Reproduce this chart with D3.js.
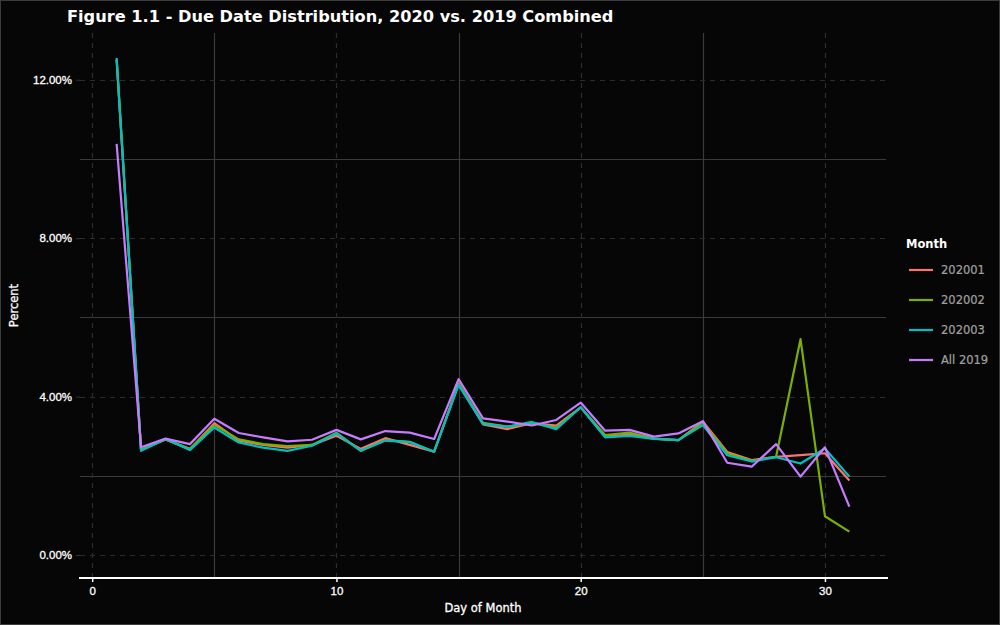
<!DOCTYPE html>
<html>
<head>
<meta charset="utf-8">
<script src="https://cdn.jsdelivr.net/npm/d3@7"></script>
<style>
  html, body { margin: 0; padding: 0; background: #060606; }
  svg { display: block; font-family: "DejaVu Sans", sans-serif; }
</style>
</head>
<body>
<svg id="chart" width="1000" height="625"></svg>
<script>
const days = d3.range(1, 32);
const seriesNames = ["202001", "202002", "202003", "All 2019"];
const seriesColors = ["#F8766D", "#7CAE00", "#00BFC4", "#C77CFF"];

const v202001 = [12.50, 2.66, 2.92, 2.67, 3.33, 2.89, 2.78, 2.71, 2.78, 3.01,
                 2.68, 2.95, 2.78, 2.61, 4.33, 3.30, 3.18, 3.33, 3.27, 3.73,
                 2.99, 3.04, 2.94, 2.90, 3.37, 2.60, 2.40, 2.48, 2.52, 2.57, 1.88];
const v202002 = [12.52, 2.65, 2.92, 2.68, 3.28, 2.92, 2.80, 2.75, 2.78, 3.09,
                 2.63, 2.90, 2.86, 2.61, 4.33, 3.34, 3.24, 3.33, 3.22, 3.73,
                 3.03, 3.09, 2.94, 2.90, 3.35, 2.57, 2.38, 2.48, 5.45, 0.98, 0.59];
const v202003 = [12.55, 2.63, 2.93, 2.65, 3.22, 2.84, 2.71, 2.63, 2.76, 3.07,
                 2.63, 2.89, 2.85, 2.61, 4.29, 3.31, 3.24, 3.36, 3.18, 3.73,
                 2.97, 3.01, 2.93, 2.90, 3.28, 2.52, 2.36, 2.47, 2.31, 2.69, 1.98];
const v2019   = [10.38, 2.72, 2.94, 2.80, 3.44, 3.08, 2.97, 2.87, 2.91, 3.16,
                 2.92, 3.13, 3.09, 2.93, 4.44, 3.45, 3.37, 3.27, 3.41, 3.85,
                 3.14, 3.16, 2.99, 3.07, 3.38, 2.33, 2.23, 2.80, 1.98, 2.72, 1.22];
const seriesValues = [v202001, v202002, v202003, v2019];

const xMajorTicks = [0, 10, 20, 30];
const xMinorTicks = [5, 15, 25];
const yMajorTicks = [0, 4, 8, 12];
const yMinorTicks = [2, 6, 10];

const svg = d3.select("#chart");
const W = 1000, H = 625;

svg.append("rect").attr("x", 0.5).attr("y", 0.5).attr("width", W - 1).attr("height", H - 1)
  .attr("fill", "#060606").attr("stroke", "#3c3c3c").attr("stroke-width", 1);

const panel = { left: 80, right: 886, top: 33, bottom: 578 };

const x = d3.scaleLinear().domain([-0.5, 32.5]).range([panel.left, panel.right]);
const y = d3.scaleLinear().domain([-0.58, 13.18]).range([panel.bottom, panel.top]);

const g = svg.append("g");

// minor grid (solid)
g.selectAll(".ygmin").data(yMinorTicks).join("line")
  .attr("x1", panel.left).attr("x2", panel.right)
  .attr("y1", d => Math.round(y(d)) + 0.5).attr("y2", d => Math.round(y(d)) + 0.5)
  .attr("stroke", "#3a3a3a").attr("stroke-width", 1.2);
g.selectAll(".xgmin").data(xMinorTicks).join("line")
  .attr("y1", panel.top).attr("y2", panel.bottom)
  .attr("x1", d => Math.round(x(d)) + 0.5).attr("x2", d => Math.round(x(d)) + 0.5)
  .attr("stroke", "#3a3a3a").attr("stroke-width", 1.2);
// major grid (dashed)
g.selectAll(".ygmaj").data(yMajorTicks).join("line")
  .attr("x1", panel.left).attr("x2", panel.right)
  .attr("y1", d => Math.round(y(d)) + 0.5).attr("y2", d => Math.round(y(d)) + 0.5)
  .attr("stroke", "#2c2c2c").attr("stroke-width", 1.2).attr("stroke-dasharray", "5,5");
g.selectAll(".xgmaj").data(xMajorTicks).join("line")
  .attr("y1", panel.top).attr("y2", panel.bottom)
  .attr("x1", d => Math.round(x(d)) + 0.5).attr("x2", d => Math.round(x(d)) + 0.5)
  .attr("stroke", "#2c2c2c").attr("stroke-width", 1.2).attr("stroke-dasharray", "5,5");

// y axis
const yAxis = d3.axisLeft(y).tickValues(yMajorTicks).tickSize(4).tickPadding(4)
  .tickFormat(d => d.toFixed(2) + "%");
const yg = svg.append("g").attr("transform", `translate(${panel.left},0)`).call(yAxis);
yg.select(".domain").remove();
yg.selectAll(".tick line").attr("stroke", "#333");
yg.selectAll(".tick text").attr("fill", "#ffffff").attr("font-size", 11.5)
  .attr("stroke", "#ffffff").attr("stroke-width", 0.3);

// x axis
const xAxis = d3.axisBottom(x).tickValues(xMajorTicks).tickSize(4).tickPadding(5);
const xg = svg.append("g").attr("transform", `translate(0,${panel.bottom})`).call(xAxis);
xg.select(".domain").remove();
xg.selectAll(".tick line").attr("stroke", "#ffffff").attr("stroke-width", 1.5);
xg.selectAll(".tick text").attr("fill", "#ffffff").attr("font-size", 11.5)
  .attr("stroke", "#ffffff").attr("stroke-width", 0.3);
svg.append("line").attr("x1", panel.left - 1).attr("x2", panel.right + 2)
  .attr("y1", panel.bottom).attr("y2", panel.bottom)
  .attr("stroke", "#ffffff").attr("stroke-width", 2);

// lines
const line = d3.line().x((d, i) => x(days[i])).y(d => y(d));
seriesValues.forEach((vals, si) => {
  svg.append("path").datum(vals)
    .attr("fill", "none").attr("stroke", seriesColors[si])
    .attr("stroke-width", 2.2).attr("stroke-linejoin", "round")
    .attr("d", line);
});

// title
svg.append("text").attr("x", 67).attr("y", 22).text("Figure 1.1 - Due Date Distribution, 2020 vs. 2019 Combined")
  .attr("fill", "#ffffff").attr("font-size", 16.2).attr("font-weight", "bold");

// axis titles
svg.append("text").attr("x", (panel.left + panel.right) / 2).attr("y", 612)
  .attr("text-anchor", "middle").attr("fill", "#ffffff").attr("font-size", 11.5)
  .attr("stroke", "#ffffff").attr("stroke-width", 0.3)
  .text("Day of Month");
svg.append("text").attr("transform", `translate(18,${(panel.top + panel.bottom) / 2}) rotate(-90)`)
  .attr("text-anchor", "middle").attr("fill", "#ffffff").attr("font-size", 11.5)
  .attr("stroke", "#ffffff").attr("stroke-width", 0.3)
  .text("Percent");

// legend
const lg = svg.append("g").attr("transform", "translate(906,0)");
lg.append("text").attr("x", 0).attr("y", 248).attr("fill", "#ffffff")
  .attr("font-size", 11.5).attr("font-weight", "bold").text("Month");
seriesNames.forEach((name, i) => {
  const yy = 270 + i * 30;
  lg.append("line").attr("x1", 3).attr("x2", 27).attr("y1", yy).attr("y2", yy)
    .attr("stroke", seriesColors[i]).attr("stroke-width", 2.2);
  lg.append("text").attr("x", 35).attr("y", yy + 4).attr("fill", "#a0a0a0")
    .attr("font-size", 11.5).attr("stroke", "#a0a0a0").attr("stroke-width", 0.2).text(name);
});
</script>
</body>
</html>
